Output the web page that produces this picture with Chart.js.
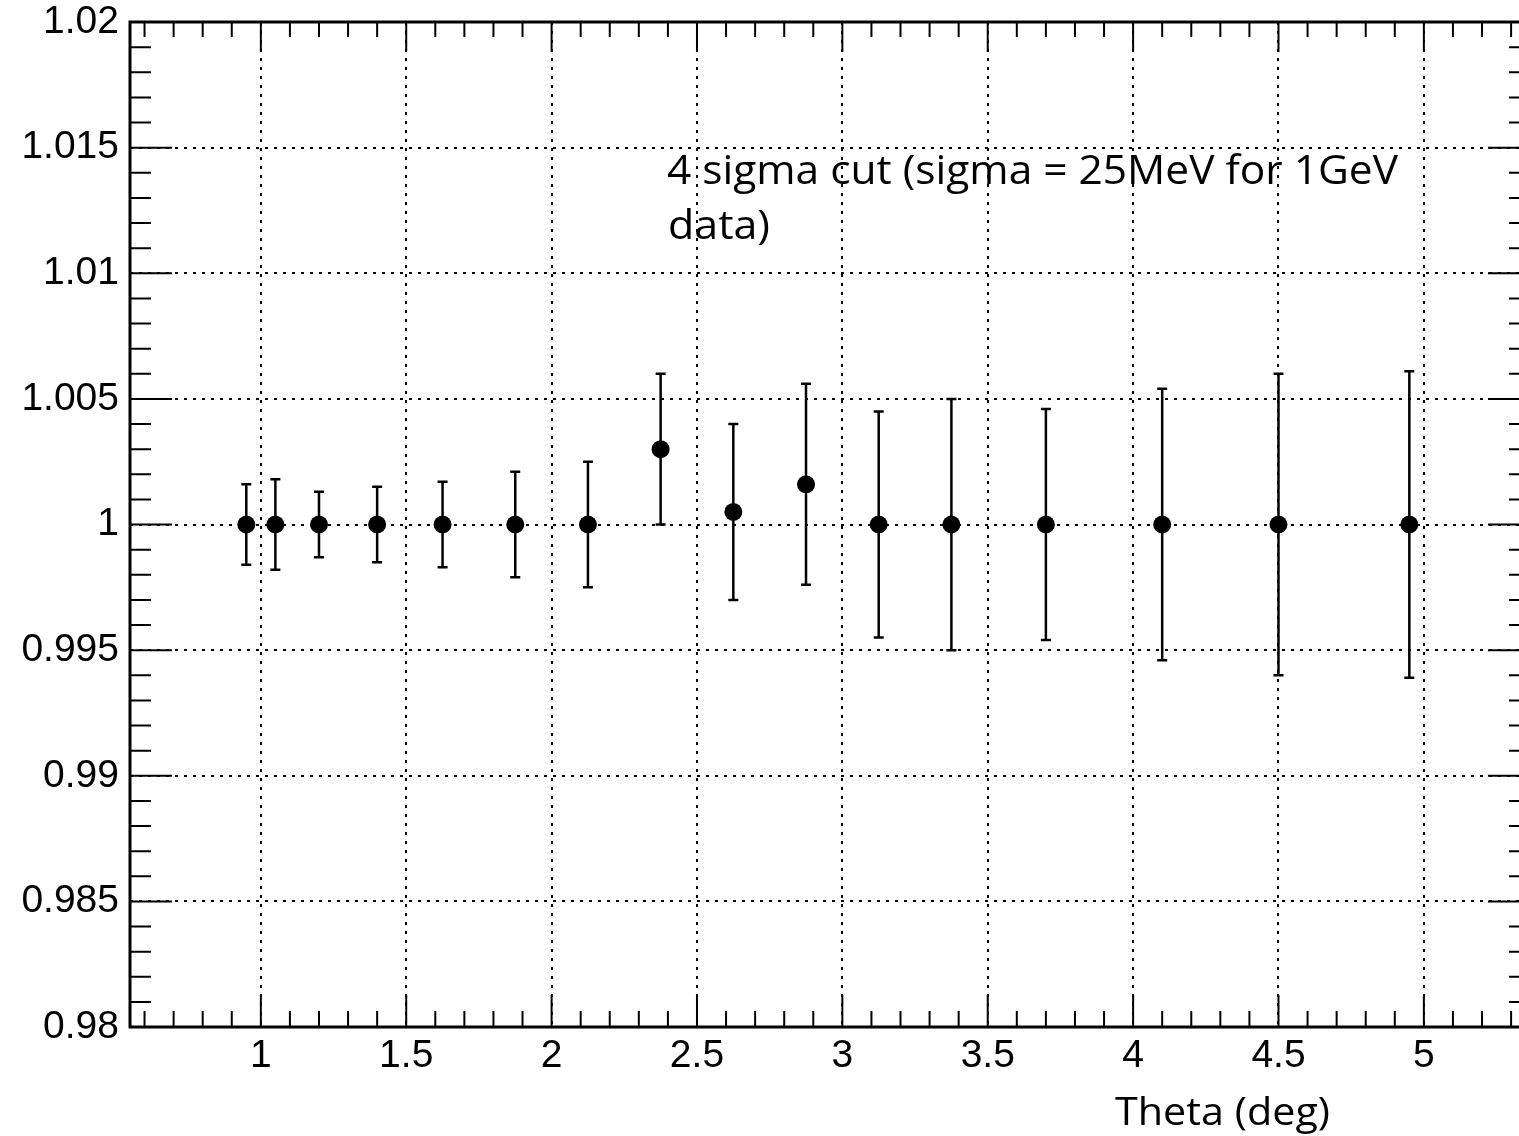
<!DOCTYPE html>
<html>
<head>
<meta charset="utf-8">
<script src="https://cdn.jsdelivr.net/npm/chart.js@4"></script>
<style>
  html, body { margin: 0; padding: 0; background: #fff; }
  #wrap { width: 1519px; height: 1136px; overflow: hidden; }
</style>
</head>
<body>
<div id="wrap"><canvas id="ratioGraph" width="1532" height="1136"></canvas></div>
<script>
// values
var thetaDeg = [0.95, 1.05, 1.2, 1.4, 1.625, 1.875, 2.125, 2.375, 2.625, 2.875, 3.125, 3.375, 3.7, 4.1, 4.5, 4.95];
var ratio    = [1, 1, 1, 1, 1, 1, 1, 1.003, 1.0005, 1.0016, 1, 1, 1, 1, 1, 1];
var ratioErr = [0.0016, 0.0018, 0.0013, 0.0015, 0.0017, 0.0021, 0.0025, 0.003, 0.0035, 0.004, 0.0045, 0.005, 0.0046, 0.0054, 0.006, 0.0061];

var xTicks = [1, 1.5, 2, 2.5, 3, 3.5, 4, 4.5, 5];
var xTickLabels = ['1', '1.5', '2', '2.5', '3', '3.5', '4', '4.5', '5'];
var yTicks = [0.98, 0.985, 0.99, 0.995, 1, 1.005, 1.01, 1.015, 1.02];
var yTickLabels = ['0.98', '0.985', '0.99', '0.995', '1', '1.005', '1.01', '1.015', '1.02'];

var noteLines = ['4 sigma cut (sigma = 25MeV for 1GeV', 'data)'];
var xTitle = 'Theta (deg)';

function getPoints() {
  var pts = [];
  for (var i = 0; i < thetaDeg.length; i++) {
    pts.push({ x: thetaDeg[i], y: ratio[i] });
  }
  return pts;
}

// draw text squeezed/stretched to a given width (the original font is narrower)
function fitText(ctx, text, x, y, width) {
  var w = ctx.measureText(text).width;
  ctx.save();
  ctx.translate(x, y);
  ctx.scale(width / w, 1);
  ctx.fillText(text, 0, 0);
  ctx.restore();
}

var errorBars = {
  id: 'errorBars',
  beforeDatasetsDraw: function(chart) {
    var ctx = chart.ctx;
    var xs = chart.scales.x, ys = chart.scales.y;
    ctx.save();
    ctx.strokeStyle = '#000';
    ctx.lineWidth = 2.5;
    for (var i = 0; i < thetaDeg.length; i++) {
      var px = xs.getPixelForValue(thetaDeg[i]);
      var top = ys.getPixelForValue(ratio[i] + ratioErr[i]);
      var bot = ys.getPixelForValue(ratio[i] - ratioErr[i]);
      ctx.beginPath();
      ctx.moveTo(px, top); ctx.lineTo(px, bot);
      ctx.moveTo(px - 5, top); ctx.lineTo(px + 5, top);
      ctx.moveTo(px - 5, bot); ctx.lineTo(px + 5, bot);
      ctx.stroke();
    }
    ctx.restore();
  }
};

// ROOT style frame with ticks on the inside of all four sides
var frameTicks = {
  id: 'frameTicks',
  afterDraw: function(chart) {
    var ctx = chart.ctx;
    var a = chart.chartArea;
    var xs = chart.scales.x, ys = chart.scales.y;
    ctx.save();
    ctx.strokeStyle = '#000';
    ctx.lineWidth = 2;
    ctx.beginPath();

    var v, px, major;
    for (v = 0.6; v <= xs.max + 1e-9; v += 0.1) {
      v = Math.round(v * 10) / 10;
      px = xs.getPixelForValue(v);
      major = Math.abs(v * 2 - Math.round(v * 2)) < 1e-6;
      ctx.moveTo(px, a.bottom); ctx.lineTo(px, a.bottom - (major ? 32 : 16));
      ctx.moveTo(px, a.top); ctx.lineTo(px, a.top + (major ? 30 : 15));
    }
    for (var k = 0; k <= 40; k++) {
      v = ys.min + k * 0.001;
      px = ys.getPixelForValue(v);
      major = k % 5 === 0;
      ctx.moveTo(a.left, px); ctx.lineTo(a.left + (major ? 42 : 21), px);
      ctx.moveTo(a.right, px); ctx.lineTo(a.right - (major ? 42 : 21), px);
    }
    ctx.stroke();

    ctx.lineWidth = 3;
    ctx.strokeRect(a.left, a.top, a.right - a.left, a.bottom - a.top);

    // annotation and axis title
    ctx.fillStyle = '#000';
    ctx.textBaseline = 'alphabetic';
    ctx.font = '40px "Open Sans"';
    fitText(ctx, noteLines[0], 667, 184, 731);
    fitText(ctx, noteLines[1], 668, 239, 102);
    ctx.font = '39px "Open Sans"';
    fitText(ctx, xTitle, 1115, 1125, 215);
    ctx.restore();
  }
};

var tickFont = { family: '"Liberation Sans", Arial, sans-serif', size: 39 };

new Chart(document.getElementById('ratioGraph'), {
  type: 'scatter',
  data: {
    datasets: [{
      data: getPoints(),
      pointRadius: 9,
      pointHoverRadius: 9,
      backgroundColor: '#000',
      borderWidth: 0
    }]
  },
  options: {
    responsive: false,
    animation: false,
    devicePixelRatio: 1,
    layout: { autoPadding: false, padding: { top: 22, right: 2, left: 0, bottom: 0 } },
    plugins: { legend: { display: false }, tooltip: { enabled: false } },
    scales: {
      x: {
        type: 'linear',
        min: 0.55,
        max: 5.365,
        afterBuildTicks: function(scale) {
          scale.ticks = xTicks.map(function(t) { return { value: t }; });
        },
        afterFit: function(scale) {
          scale.height = 109;
          scale.paddingLeft = 0;
          scale.paddingRight = 0;
        },
        ticks: {
          autoSkip: false,
          maxRotation: 0,
          color: '#000',
          font: tickFont,
          padding: 6,
          callback: function(value) { return xTickLabels[xTicks.indexOf(value)]; }
        },
        grid: { color: '#000', lineWidth: 2, drawTicks: false },
        border: { display: false, dash: [3, 6] }
      },
      y: {
        min: 0.98,
        max: 1.02,
        afterBuildTicks: function(scale) {
          scale.ticks = yTicks.map(function(t) { return { value: t }; });
        },
        afterFit: function(scale) {
          scale.width = 130;
          scale.paddingTop = 0;
          scale.paddingBottom = 0;
        },
        ticks: {
          autoSkip: false,
          color: '#000',
          font: tickFont,
          padding: 11,
          callback: function(value) { return yTickLabels[yTicks.indexOf(value)]; }
        },
        grid: { color: '#000', lineWidth: 2, drawTicks: false },
        border: { display: false, dash: [3, 6] }
      }
    }
  },
  plugins: [errorBars, frameTicks]
});
</script>
</body>
</html>
